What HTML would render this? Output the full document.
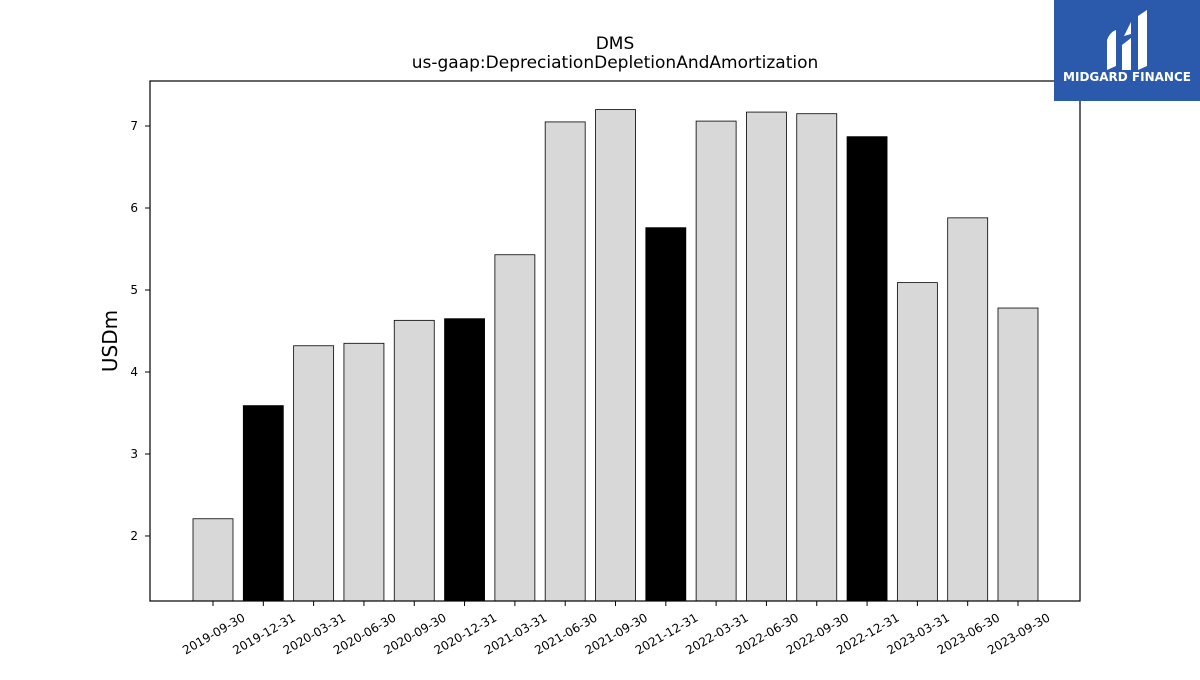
<!DOCTYPE html>
<html><head><meta charset="utf-8"><style>
body{margin:0;background:#fff;font-family:"Liberation Sans","DejaVu Sans",sans-serif;}
svg text{font-family:"DejaVu Sans","Liberation Sans",sans-serif;}
</style></head><body>
<svg id="chart" width="1200" height="675" xmlns="http://www.w3.org/2000/svg">
<rect width="1200" height="675" fill="#fff"/>
<text x="615" y="49" font-size="17" text-anchor="middle">DMS</text>
<text x="615" y="68" font-size="17" text-anchor="middle">us-gaap:DepreciationDepletionAndAmortization</text>
<text transform="translate(117,341) rotate(-90)" font-size="20" text-anchor="middle">USDm</text>
<g id="bars"></g>
<g id="yticks"></g>
<g id="xticks"></g>
<rect x="150" y="81" width="930" height="520" fill="none" stroke="#000" stroke-width="1.2"/>
<g>
<rect x="1054" y="0" width="146" height="101" fill="#2b5aad"/>
<path d="M1107 70 L1107 40 Q1110 32 1116 30 L1116 66 Z M1122 70 L1122 45 L1131 38 L1131 70 Z M1124 36 L1131 22 L1131 34 Z M1138 70 L1138 16 L1147 10 L1147 66 Z" fill="#fff"/>
<text x="1127" y="81" font-size="12" font-weight="bold" fill="#fff" text-anchor="middle">MIDGARD FINANCE</text>
</g>
</svg>
<script>
const categories=["2019-09-30","2019-12-31","2020-03-31","2020-06-30","2020-09-30","2020-12-31","2021-03-31","2021-06-30","2021-09-30","2021-12-31","2022-03-31","2022-06-30","2022-09-30","2022-12-31","2023-03-31","2023-06-30","2023-09-30"];
const values=[2.21,3.59,4.32,4.35,4.63,4.65,5.43,7.05,7.20,5.76,7.06,7.17,7.15,6.87,5.09,5.88,4.78];
const highlighted=[false,true,false,false,false,true,false,false,false,true,false,false,false,true,false,false,false];
const yTicks=[2,3,4,5,6,7];
const NS="http://www.w3.org/2000/svg";
const yMin=1.207,yMax=7.549,plotTop=81,plotBottom=601;
function yScale(v){return plotBottom-(v-yMin)/(yMax-yMin)*(plotBottom-plotTop);}
const step=(1018-213)/16;
function xScale(i){return 213+step*i;}
const bw=40;
const bars=document.getElementById('bars');
values.forEach((v,i)=>{
 const r=document.createElementNS(NS,'rect');
 
 
 r.setAttribute('x',xScale(i)-bw/2);
 r.setAttribute('y',yScale(v));
 r.setAttribute('width',bw);
 r.setAttribute('height',plotBottom-yScale(v));
 r.setAttribute('fill',highlighted[i]?'#000':'#d8d8d8');
 r.setAttribute('stroke','#000');
 r.setAttribute('stroke-width','0.8');
 bars.appendChild(r);
});
const yt=document.getElementById('yticks');
yTicks.forEach(t=>{
 const y=yScale(t);
 const l=document.createElementNS(NS,'line');
 
 
 l.setAttribute('x1',145);l.setAttribute('x2',150);l.setAttribute('y1',y);l.setAttribute('y2',y);l.setAttribute('stroke','#000');
 yt.appendChild(l);
 const tx=document.createElementNS(NS,'text');
 
 
 tx.setAttribute('x',138);tx.setAttribute('y',y+4);tx.setAttribute('font-size','12');tx.setAttribute('text-anchor','end');
 tx.textContent=t;
 yt.appendChild(tx);
});
const xt=document.getElementById('xticks');
categories.forEach((c,i)=>{
 const x=xScale(i);
 const l=document.createElementNS(NS,'line');
 
 
 l.setAttribute('x1',x);l.setAttribute('x2',x);l.setAttribute('y1',601);l.setAttribute('y2',606);l.setAttribute('stroke','#000');
 xt.appendChild(l);
 const tx=document.createElementNS(NS,'text');
 
 
 tx.setAttribute('font-size','12');tx.setAttribute('text-anchor','end');
 tx.setAttribute('transform','translate('+(x+33)+',620) rotate(-30)');
 tx.textContent=c;
 xt.appendChild(tx);
});
</script>
</body></html>
